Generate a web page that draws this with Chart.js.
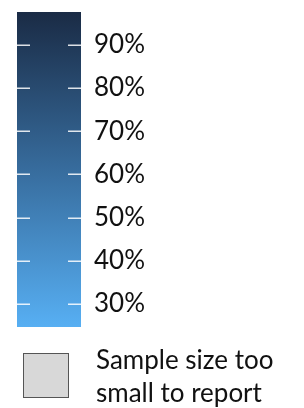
<!DOCTYPE html>
<html><head><meta charset="utf-8">
<script src="https://cdn.jsdelivr.net/npm/chart.js@4/dist/chart.umd.min.js"></script>
<style>
html,body{margin:0;padding:0;background:#fff;}
#wrap{position:relative;width:304px;height:408px;overflow:hidden;background:#fff}
#c{position:absolute;left:0;top:0}
.sw{position:absolute;left:23px;top:353px;width:44px;height:43px;background:#d8d8d8;border:1.5px solid #555;}
.lt{position:absolute;left:96px;top:343px;font-family:Lato,sans-serif;font-size:26px;line-height:33px;color:#111;white-space:nowrap}
</style></head>
<body><div id="wrap"><canvas id="c" width="304" height="408"></canvas>
<div class="sw"></div><div class="lt">Sample size too<br>small to report</div></div>
<script>
const categories = [''];
const rangeValues = [[24.7, 97.6]];
const tickValues = [30, 40, 50, 60, 70, 80, 90];
const tickLabels = ['30%', '40%', '50%', '60%', '70%', '80%', '90%'];
const scaleMin = 24.7, scaleMax = 97.6;

const tickMarks = {
  id: 'tickMarks',
  afterDatasetsDraw(chart) {
    const {ctx, chartArea: a, scales: {y}} = chart;
    ctx.save();
    ctx.strokeStyle = 'rgba(255,255,255,0.85)';
    ctx.lineWidth = 1.5;
    tickValues.forEach(v => {
      const py = Math.round(y.getPixelForValue(v)) + 0.25;
      ctx.beginPath();
      ctx.moveTo(a.left, py); ctx.lineTo(a.left + 13, py);
      ctx.moveTo(a.right - 13, py); ctx.lineTo(a.right, py);
      ctx.stroke();
    });
    ctx.restore();
  }
};

new Chart(document.getElementById('c'), {
  type: 'bar',
  data: {
    labels: categories,
    datasets: [{
      data: rangeValues,
      borderWidth: 0,
      borderSkipped: false,
      barPercentage: 1,
      categoryPercentage: 1,
      backgroundColor(ctx) {
        const a = ctx.chart.chartArea;
        if (!a) return '#386d9c';
        const g = ctx.chart.ctx.createLinearGradient(0, a.top, 0, a.bottom);
        g.addColorStop(0, '#1a2b45');
        g.addColorStop(0.5, '#376c9d');
        g.addColorStop(1, '#57aff3');
        return g;
      }
    }]
  },
  options: {
    responsive: false,
    animation: false,
    events: [],
    layout: {padding: {left: 17, top: 12, bottom: 81, right: 0}},
    plugins: {legend: {display: false}, tooltip: {enabled: false}},
    scales: {
      x: {display: false},
      y: {
        position: 'right',
        min: scaleMin, max: scaleMax,
        afterBuildTicks(s) { s.ticks = tickValues.map(v => ({value: v})); },
        afterFit(s) { s.width = 304 - 81; s.paddingTop = 0; s.paddingBottom = 0; },
        grid: {display: false, drawTicks: false},
        border: {display: false},
        ticks: {
          padding: 13,
          color: '#111',
          font: {family: 'Lato', size: 26},
          callback(v) { return tickLabels[tickValues.indexOf(v)]; }
        }
      }
    }
  },
  plugins: [tickMarks]
});
</script></body></html>
